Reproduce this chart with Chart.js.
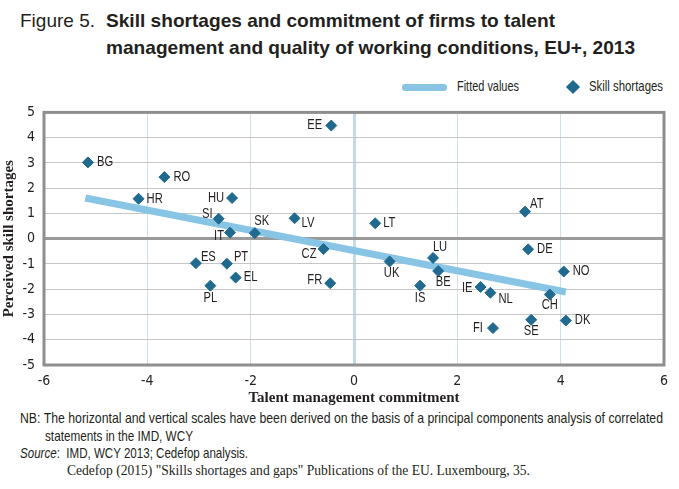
<!DOCTYPE html>
<html>
<head>
<meta charset="utf-8">
<script src="https://cdn.jsdelivr.net/npm/chart.js@4.4.1/dist/chart.umd.min.js"></script>
<style>
  body { margin:0; background:#fff; width:679px; height:489px; position:relative; overflow:hidden;
         font-family:"Liberation Sans",sans-serif; color:#231f20; }
  .t { position:absolute; white-space:nowrap; transform-origin:0 50%; }
  .ttl { font-size:19px; }
  .nar { font-size:15px; }
  #chartBox { position:absolute; left:0; top:95px; width:679px; height:312px; }
</style>
</head>
<body>
<div class="t ttl" style="left:20px;top:10px">Figure 5.</div>
<div class="t ttl" style="left:106px;top:10px;font-weight:bold" data-w="449">Skill shortages and commitment of firms to talent</div>
<div class="t ttl" style="left:106px;top:37px;font-weight:bold" data-w="529">management and quality of working conditions, EU+, 2013</div>

<div class="t" style="left:402px;top:84px;width:45px;height:7px;background:#88c5e5;border-radius:3px"></div>
<div class="t nar" style="left:457px;top:77px" data-w="62">Fitted values</div>
<div class="t" style="left:568px;top:82px;width:10px;height:10px;background:#20698f;transform:rotate(45deg);transform-origin:50% 50%"></div>
<div class="t nar" style="left:589px;top:77px" data-w="74">Skill shortages</div>

<div id="chartBox"><canvas id="myChart" width="679" height="312"></canvas></div>

<div class="t nar" style="left:20px;top:409px" data-w="643">NB: The horizontal and vertical scales have been derived on the basis of a principal components analysis of correlated</div>
<div class="t nar" style="left:45px;top:427px" data-w="148">statements in the IMD, WCY</div>
<div class="t nar" style="left:20px;top:444px" data-w="228"><i>Source</i>:&nbsp; IMD, WCY 2013; Cedefop analysis.</div>
<div class="t" style="left:67px;top:463px;font:14px 'Liberation Serif',serif" data-w="463">Cedefop (2015) "Skills shortages and gaps" Publications of the EU. Luxembourg, 35.</div>
<script>
// countries and their scores
const countries = ['BG','RO','HR','HU','SI','IT','ES','PT','PL','EL','SK','LV','EE','CZ','FR',
                   'LT','UK','LU','BE','IS','IE','NL','FI','SE','DE','AT','NO','CH','DK'];
const talent   = [-5.15,-3.67,-4.17,-2.36,-2.62,-2.40,-3.06,-2.46,-2.78,-2.29,-1.92,-1.15,-0.44,-0.59,-0.46,
                   0.41,0.69,1.53,1.63,1.28,2.45,2.64,2.69,3.43,3.37,3.31,4.06,3.79,4.10];
const shortage = [3.02,2.44,1.58,1.61,0.79,0.24,-0.97,-0.99,-1.86,-1.54,0.22,0.81,4.48,-0.41,-1.76,
                   0.61,-0.90,-0.76,-1.28,-1.86,-1.91,-2.14,-3.54,-3.21,-0.42,1.07,-1.30,-2.21,-3.24];
// fitted line end points
const fitX = [-5.2, 4.1];
const fitY = [1.61, -2.11];
const xTicks = [-6,-4,-2,0,2,4,6];
const yTicks = [-5,-4,-3,-2,-1,0,1,2,3,4,5];

// where each country label sits next to its marker: align, dx, dy
const labelPos = [['l',9,0],['l',9,0],['l',8,0],['r',-8,0],['r',-6,-5],['r',-6,4],['l',5,-6],['l',7,-7],['c',0,12],['l',8,0],
                  ['c',7,-12],['l',7,5],['r',-9,0],['r',-7,5],['r',-8,-3],['l',8,0],['c',2,12],['c',7,-11],['c',5,11],['c',0,12],
                  ['r',-8,1],['l',8,6],['r',-10,0],['c',0,11],['l',9,0],['l',5,-8],['l',9,0],['c',0,11],['l',9,0]];

// squeeze html text to the widths of the condensed type in the figure
document.querySelectorAll('[data-w]').forEach(function(el){
  const w = el.getBoundingClientRect().width;
  el.style.transform = 'scaleX(' + (+el.dataset.w / w) + ')';
});

const narrow = '"DejaVu Sans Condensed",sans-serif';

const pointLabels = {
  id: 'pointLabels',
  afterDatasetsDraw(chart) {
    const meta = chart.getDatasetMeta(1);
    const c = chart.ctx;
    c.font = '14px "Liberation Sans",sans-serif';
    c.fillStyle = '#231f20';
    c.textBaseline = 'middle';
    meta.data.forEach(function(pt, i) {
      const p = labelPos[i];
      c.save();
      c.translate(pt.x + p[1], pt.y + p[2]);
      c.scale(0.8, 1);
      c.textAlign = p[0] == 'l' ? 'left' : (p[0] == 'r' ? 'right' : 'center');
      c.fillText(countries[i], 0, 0);
      c.restore();
    });
  }
};

// thick grey frame round the plot
const frame = {
  id: 'frame',
  beforeDatasetsDraw(chart) {
    const a = chart.chartArea, c = chart.ctx;
    c.save();
    c.strokeStyle = '#8e8e8e';
    c.lineWidth = 3;
    c.strokeRect(a.left, a.top, a.right - a.left, a.bottom - a.top);
    c.restore();
  }
};

const data = {
  datasets: [{
    type: 'line',
    label: 'Fitted values',
    data: fitX.map(function(x, i){ return {x: x, y: fitY[i]}; }),
    borderColor: '#88c5e5',
    borderWidth: 7,
    pointRadius: 0,
    order: 2
  }, {
    type: 'scatter',
    label: 'Skill shortages',
    data: talent.map(function(x, i){ return {x: x, y: shortage[i]}; }),
    pointStyle: 'rectRot',
    pointRadius: 5.5,
    backgroundColor: '#20698f',
    borderColor: '#20698f',
    order: 1
  }]
};

const config = {
  type: 'scatter',
  data: data,
  options: {
    responsive: false,
    animation: false,
    layout: { padding: { top: 8, right: 15, left: 0, bottom: 0 } },
    scales: {
      x: {
        type: 'linear', min: -6, max: 6,
        afterBuildTicks: function(s){ s.ticks = xTicks.map(function(v){ return {value: v}; }); },
        afterFit: function(s){ s.height = 42; },
        ticks: { color: '#231f20', font: { size: 14, family: narrow }, padding: 8 },
        grid: {
          drawTicks: false,
          color: function(ctx){ return ctx.tick.value === 0 ? '#c4dbe7' : '#d0e0ea'; },
          lineWidth: function(ctx){ return ctx.tick.value === 0 ? 3 : 1; }
        },
        border: { display: false },
        title: { display: true, text: 'Talent management commitment', color: '#231f20',
                 font: { size: 15, weight: 'bold', family: '"Liberation Serif",serif' }, padding: { top: 0, bottom: 0 } }
      },
      y: {
        type: 'linear', min: -5, max: 5,
        afterBuildTicks: function(s){ s.ticks = yTicks.map(function(v){ return {value: v}; }); },
        afterFit: function(s){ s.width = 44; },
        ticks: { color: '#231f20', font: { size: 14, family: narrow }, padding: 9 },
        grid: {
          drawTicks: false,
          color: function(ctx){ return ctx.tick.value === 0 ? '#9a9a9a' : '#c6c6c6'; },
          lineWidth: function(ctx){ return ctx.tick.value === 0 ? 3 : 1; }
        },
        border: { display: false },
        title: { display: true, text: 'Perceived skill shortages', color: '#231f20',
                 font: { size: 15, weight: 'bold', family: '"Liberation Serif",serif' }, padding: { top: 0, bottom: 0 } }
      }
    },
    plugins: {
      legend: { display: false },
      tooltip: { enabled: false }
    }
  },
  plugins: [frame, pointLabels]
};

const myChart = new Chart(document.getElementById('myChart'), config);
</script>
</body>
</html>
